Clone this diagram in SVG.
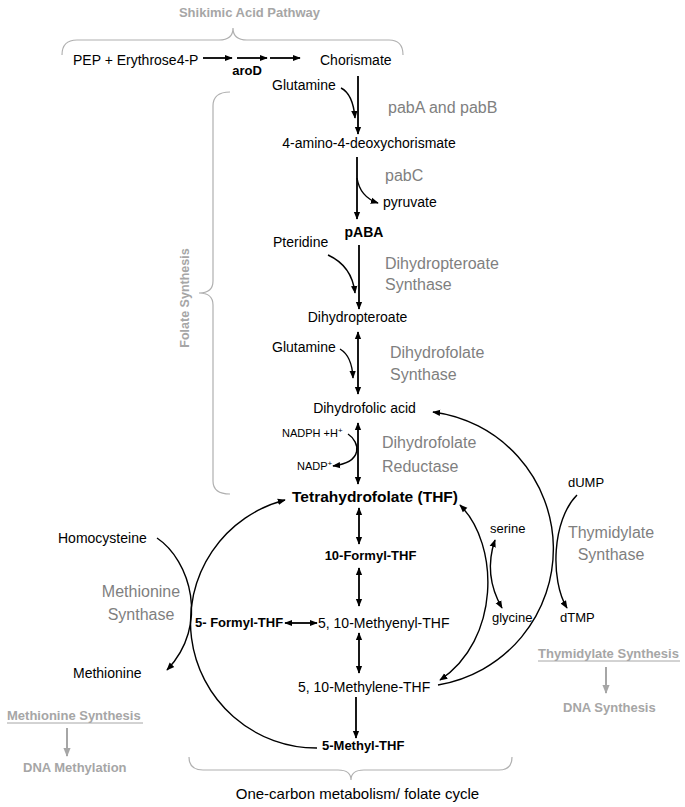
<svg xmlns="http://www.w3.org/2000/svg" width="685" height="807" viewBox="0 0 685 807">
<defs>
<marker id="ah" viewBox="0 0 10 10" refX="9" refY="5" markerWidth="8" markerHeight="8" markerUnits="userSpaceOnUse" orient="auto-start-reverse"><path d="M0,1 L10,5 L0,9 z" fill="#000"/></marker>
<marker id="ahg" viewBox="0 0 10 10" refX="9" refY="5" markerWidth="9" markerHeight="9" markerUnits="userSpaceOnUse" orient="auto-start-reverse"><path d="M0,1 L10,5 L0,9 z" fill="#a6a6a6"/></marker>
</defs>
<style>
text{font-family:"Liberation Sans",Arial,sans-serif;fill:#000}
.n{font-size:14px}
.s{font-size:11px}
.b{font-weight:bold;font-size:13px}
.bb{font-weight:bold;font-size:15.5px}
.enz{font-size:16px;fill:#7f7f7f}
.hdr{font-weight:bold;font-size:13px;fill:#a6a6a6}
.c{text-anchor:middle}
.ln{fill:none;stroke:#000;stroke-width:1.8}
.cv{fill:none;stroke:#000;stroke-width:1.4}
.end{marker-end:url(#ah)}
.both{marker-start:url(#ah);marker-end:url(#ah)}
.br{fill:none;stroke:#b0b0b0;stroke-width:1.2}
.g{fill:none;stroke:#a6a6a6;stroke-width:2;marker-end:url(#ahg)}
</style>
<rect width="685" height="807" fill="#fff"/>
<g id="braces">
<path class="br" d="M62,55 Q62,40 77,40 L219,40 Q233,40 233,28 Q233,40 247,40 L389,40 Q403,40 403,55"/>
<path class="br" d="M230,92 Q213,92 213,106 L213,281 Q213,293 199,293 Q213,293 213,305 L213,481 Q213,494 230,494"/>
<path class="br" d="M189,757 Q189,770 203,770 L338,770 Q351,770 351,780 Q351,770 364,770 L499,770 Q512,770 512,757"/>
</g>
<g id="connectors">
<path class="ln end" d="M203,58 L232,58"/>
<path class="ln end" d="M237,58 L267,58"/>
<path class="ln end" d="M270,58 L300,58"/>
<path class="ln end" d="M358,76 L358,134"/>
<path class="cv end" d="M341,88 Q353,94 355,118"/>
<path class="ln end" d="M357,157 L357,219"/>
<path class="cv end" d="M357,178 Q360,197 378,203"/>
<path class="ln end" d="M359,245 L359,309"/>
<path class="cv end" d="M328,255 Q352,266 355,293"/>
<path class="ln both" d="M358,332 L358,394"/>
<path class="cv end" d="M340,349 Q352,356 353,378"/>
<path class="ln both" d="M358,423 L358,484"/>
<path class="cv end" d="M348,434 C360,442 364,462 333,466"/>
<path class="ln both" d="M359,508 L359,544"/>
<path class="ln both" d="M359,568 L359,606"/>
<path class="ln both" d="M285,623 L317,623"/>
<path class="ln both" d="M359,633 L359,673"/>
<path class="ln end" d="M356,697 L356,738"/>
<path class="cv end" d="M317,748 A126,126 0 0 1 285,500"/>
<path class="cv end" d="M157,538 C190,560 210,625 167,670"/>
<path class="cv end" d="M438,685 A138,138 0 0 0 433,412"/>
<path class="cv both" d="M460,505 C500,545 500,640 440,680"/>
<path class="cv both" d="M495,540 Q483,575 502,608"/>
<path class="cv end" d="M577,495 C552,520 550,580 567,608"/>
<path class="g" d="M67,728 L67,756"/>
<path class="g" d="M606,667 L606,693"/>
</g>
<g id="shikimic"><text class="hdr c" x="249.5" y="17">Shikimic Acid Pathway</text></g>
<g id="pep"><text class="n" x="73" y="65">PEP + Erythrose4-P</text></g>
<g id="aroD"><text class="b c" x="247" y="75">aroD</text></g>
<g id="chorismate"><text class="n" x="320" y="65">Chorismate</text></g>
<g id="glutamine1"><text class="n" x="272" y="90">Glutamine</text></g>
<g id="pabAB"><text class="enz" x="388" y="113">pabA and pabB</text></g>
<g id="adc"><text class="n c" x="369" y="148">4-amino-4-deoxychorismate</text></g>
<g id="pabC"><text class="enz" x="385" y="181">pabC</text></g>
<g id="pyruvate"><text class="n" x="383" y="207">pyruvate</text></g>
<g id="pABA"><text class="b c" x="364" y="237" style="font-size:14px">pABA</text></g>
<g id="pteridine"><text class="n" x="273" y="247">Pteridine</text></g>
<g id="dhps"><text class="enz" x="385" y="269">Dihydropteroate</text><text class="enz" x="385" y="290">Synthase</text></g>
<g id="dihydropteroate"><text class="n c" x="357.5" y="322">Dihydropteroate</text></g>
<g id="glutamine2"><text class="n" x="272" y="352">Glutamine</text></g>
<g id="dhfs"><text class="enz" x="390" y="358">Dihydrofolate</text><text class="enz" x="390" y="380">Synthase</text></g>
<g id="dhf"><text class="n c" x="364.5" y="413">Dihydrofolic acid</text></g>
<g id="nadph"><text class="s" x="282" y="437">NADPH +H<tspan dy="-4" font-size="8">+</tspan></text></g>
<g id="nadp"><text class="s" x="297" y="470">NADP<tspan dy="-4" font-size="8">+</tspan></text></g>
<g id="dhfr"><text class="enz" x="382" y="448">Dihydrofolate</text><text class="enz" x="382" y="472">Reductase</text></g>
<g id="thf"><text class="bb c" x="375" y="502">Tetrahydrofolate (THF)</text></g>
<g id="folate"><text class="hdr c" transform="translate(189,298) rotate(-90)" x="0" y="0" style="font-size:12.5px">Folate Synthesis</text></g>
<g id="formyl10"><text class="b c" x="370.5" y="560">10-Formyl-THF</text></g>
<g id="formyl5"><text class="b" x="195" y="627">5- Formyl-THF</text></g>
<g id="methenyl"><text class="n" x="318" y="628">5, 10-Methyenyl-THF</text></g>
<g id="methylene"><text class="n" x="298" y="692">5, 10-Methylene-THF</text></g>
<g id="methyl5"><text class="b" x="322" y="750">5-Methyl-THF</text></g>
<g id="onecarbon"><text class="c" x="357.5" y="799" style="font-size:15px">One-carbon metabolism/ folate cycle</text></g>
<g id="homocysteine"><text class="n" x="58" y="543">Homocysteine</text></g>
<g id="ms"><text class="enz c" x="141" y="597">Methionine</text><text class="enz c" x="141" y="620">Synthase</text></g>
<g id="methionine"><text class="n" x="73" y="678">Methionine</text></g>
<g id="metsyn"><text class="hdr" x="7" y="720">Methionine Synthesis</text><line x1="7" y1="723" x2="143" y2="723" stroke="#a6a6a6" stroke-width="1"/></g>
<g id="dnameth"><text class="hdr" x="23" y="772">DNA Methylation</text></g>
<g id="serine"><text class="n" x="490" y="533" style="font-size:13px">serine</text></g>
<g id="glycine"><text class="n" x="492" y="622" style="font-size:13px">glycine</text></g>
<g id="dump"><text class="n" x="568" y="487" style="font-size:13px">dUMP</text></g>
<g id="dtmp"><text class="n" x="560" y="622" style="font-size:13px">dTMP</text></g>
<g id="ts"><text class="enz c" x="611" y="538">Thymidylate</text><text class="enz c" x="611" y="560">Synthase</text></g>
<g id="thysyn"><text class="hdr" x="538" y="658">Thymidylate Synthesis</text><line x1="538" y1="661" x2="680" y2="661" stroke="#a6a6a6" stroke-width="1"/></g>
<g id="dnasyn"><text class="hdr" x="563" y="712">DNA Synthesis</text></g>
</svg>
